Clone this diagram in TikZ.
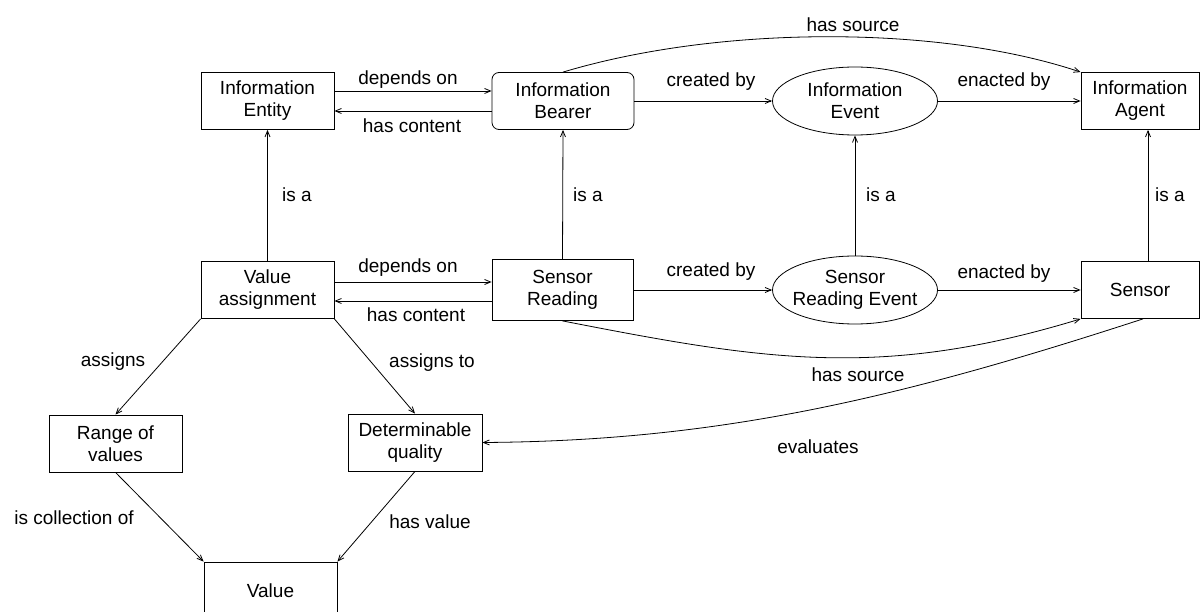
\documentclass[tikz,border=0pt]{standalone}
\usepackage{fontspec}
\setmainfont{Liberation Sans}
\usetikzlibrary{arrows.meta,shapes.geometric}
\begin{document}
\begin{tikzpicture}[x=1pt,y=-1pt,
  every node/.style={font=\fontsize{19}{22}\selectfont, align=center},
  box/.style={draw, line width=0.8pt, inner sep=0pt, minimum width=133pt, minimum height=57pt},
  rbox/.style={box, rounded corners=7pt},
  ell/.style={draw, ellipse, line width=0.8pt, inner sep=0pt, minimum width=165pt, minimum height=68pt},
  lbl/.style={inner sep=0pt},
  arr/.style={line width=0.8pt, -{Straight Barb[length=6pt,width=5pt]}},
]
\useasboundingbox (0,0) rectangle (1203,612);
\clip (0,0) rectangle (1203,612);

% nodes
\node[box] (ie) at (267.5,101) {Information\\Entity};
\node[rbox, minimum width=142pt] (ib) at (563,101) {Information\\Bearer};
\node[ell] (iev) at (855,101) {};
\node[lbl] (ievt) at (iev) {Information\\Event};
\node[box, minimum width=118pt] (ia) at (1140,101) {Information\\Agent};

\node[box] (va) at (267.5,290) {Value\\assignment};
\node[box, minimum width=141pt, minimum height=61pt] (sr) at (562.5,290) {Sensor\\Reading};
\node[ell] (sre) at (855,290) {};
\node[lbl] (sret) at (sre) {Sensor\\Reading Event};
\node[box, minimum width=118pt] (s) at (1140,290) {Sensor};

\node[box] (rv) at (115.5,443.5) {Range of\\values};
\node[box, minimum width=134pt] (dq) at (415,442.5) {Determinable\\quality};
\node[box] (v) at (270.5,590.5) {Value};

% labels
\node[lbl] (l1) at (408,80) {depends on};
\node[lbl] (l2) at (412,126) {has content};
\node[lbl] (l3) at (711,82) {created by};
\node[lbl] (l4) at (1004,82) {enacted by};
\node[lbl] (l5) at (853,25) {has source};
\node[lbl] (l6) at (408,268) {depends on};
\node[lbl] (l7) at (416,315) {has content};
\node[lbl] (l8) at (711,272) {created by};
\node[lbl] (l9) at (1004,274) {enacted by};
\node[lbl] (l10) at (858,375) {has source};
\node[lbl] (l11) at (818,447) {evaluates};
\node[lbl] (l12) at (297,195) {is a};
\node[lbl] (l13) at (588,195) {is a};
\node[lbl] (l14) at (881,195) {is a};
\node[lbl] (l15) at (1170,195) {is a};
\node[lbl] (l16) at (113,362) {assigns};
\node[lbl] (l17) at (432,363) {assigns to};
\node[lbl] (l18) at (74,518) {is collection of};
\node[lbl] (l19) at (430,522) {has value};

% connectors
\draw[arr] ([yshift=10pt]ie.east) -- ([yshift=10pt]ib.west);
\draw[arr] ([yshift=-10pt]ib.west) -- ([yshift=-10pt]ie.east);
\draw[arr] (ib.east) -- (iev.west);
\draw[arr] (iev.east) -- (ia.west);

\draw[arr] ([yshift=8pt]va.east) -- ([yshift=8pt]sr.west);
\draw[arr] ([yshift=-11pt]sr.west) -- ([yshift=-11pt]va.east);
\draw[arr] (sr.east) -- (sre.west);
\draw[arr] (sre.east) -- (s.west);

\draw[arr] (va.north) -- (ie.south);
\draw[arr] (sr.north) -- (ib.south);
\draw[arr] (sre.north) -- (iev.south);
\draw[arr] ([xshift=8pt]s.north) -- ([xshift=8pt]ia.south);

\draw[arr] (va.south west) -- (rv.north);
\draw[arr] (va.south east) -- (dq.north);
\draw[arr] (rv.south) -- (v.north west);
\draw[arr] (dq.south) -- (v.north east);

\draw[arr] (ib.north) .. controls (720,25) and (940,25) .. (ia.north west);
\draw[arr] (sr.south) .. controls (763,360) and (880,380) .. (s.south west);
\draw[arr] ([xshift=3pt]s.south) .. controls (900,398) and (720,441) .. (dq.east);
\end{tikzpicture}
\end{document}
